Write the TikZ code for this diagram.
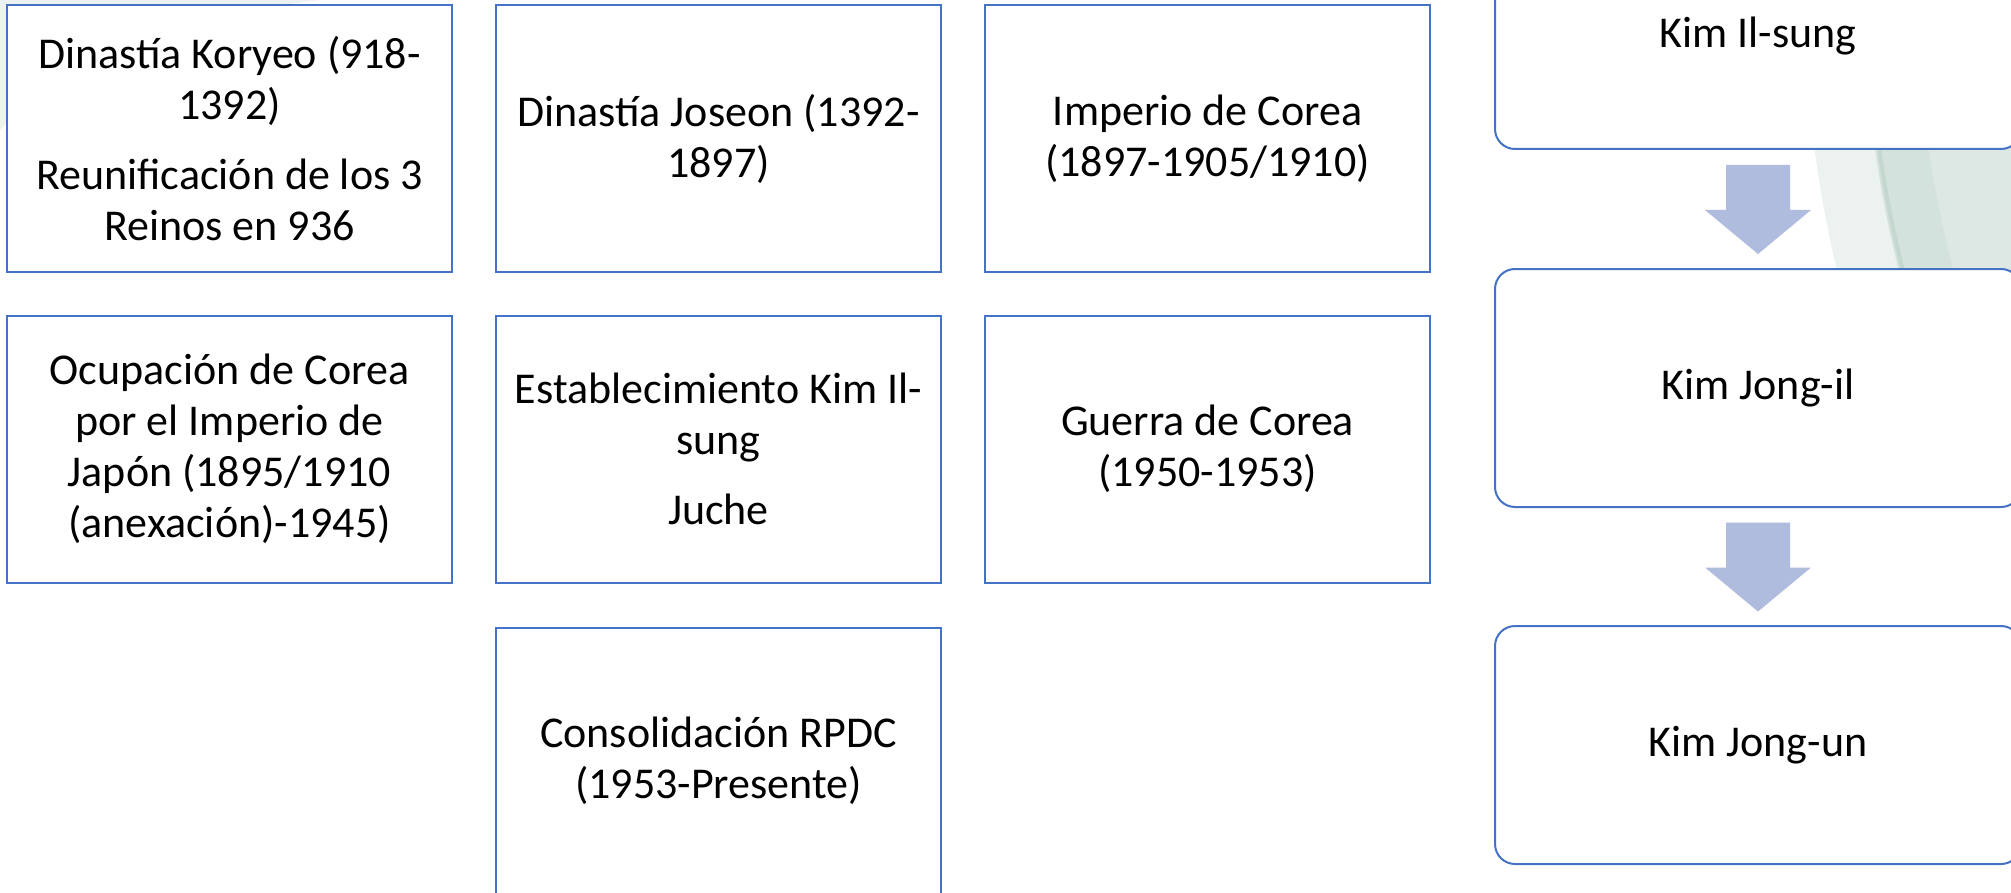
\documentclass[tikz,border=0pt]{standalone}
\usepackage[dvipsnames]{xcolor}
\usepackage{fontspec}
\setmainfont{Carlito}
\usetikzlibrary{calc}

\definecolor{boxBlue}{RGB}{68,114,196}
\definecolor{arrowBlue}{RGB}{176,188,222}
\definecolor{facetLight}{RGB}{236,242,240}
\definecolor{facetMid}{RGB}{211,226,220}
\definecolor{facetRing}{RGB}{221,232,228}
\definecolor{facetDark}{RGB}{196,216,207}

\begin{document}
\begin{tikzpicture}[x=0.5pt,y=-0.5pt,
  eventBox/.style={draw=boxBlue,line width=1pt,fill=white,inner sep=0pt,
    minimum width=222.5pt,minimum height=133.5pt,align=center,
    font=\fontsize{22}{25.5}\selectfont},
  leaderBox/.style={eventBox,rounded corners=10pt,minimum width=263pt,minimum height=119pt},
  blockArrow/.style={fill=arrowBlue,draw=none}]
\useasboundingbox (0,0) rectangle (2011,893);
\clip (0,0) rectangle (2011,893);
\fill[white] (0,0) rectangle (2011,893);
\fill[facetLight] (0,0) -- (320,0) .. controls (170,18) and (60,60) .. (0,130) -- cycle;
\begin{scope}
  \clip (1700,0) rectangle (2011,300);
  \fill[facetLight] (2953,0) circle[radius=1148];
  \fill[facetMid] (2953,0) circle[radius=1088];
  \draw[facetDark,line width=2pt] (2953,0) circle[radius=1084];
  \fill[facetRing] (2953,0) circle[radius=1035];
\end{scope}

\node[eventBox] (dinastiaKoryeo) at (229.5,138.5) {Dinastía Koryeo (918-\\1392)\\[9.5pt]Reunificación de los 3\\Reinos en 936};
\node[eventBox] (dinastiaJoseon) at (718.5,138.5) {Dinastía Joseon (1392-\\1897)};
\node[eventBox] (imperioCorea) at (1207.5,138.5) {Imperio de Corea\\(1897-1905/1910)};
\node[eventBox] (ocupacionJapon) at (229.5,449) {Ocupación de Corea\\por el Imperio de\\Japón (1895/1910\\(anexación)-1945)};
\node[eventBox] (establecimientoKim) at (718.5,449) {Establecimiento Kim Il-\\sung\\[9.5pt]Juche};
\node[eventBox] (guerraCorea) at (1207.5,449) {Guerra de Corea\\(1950-1953)};
\node[eventBox] (consolidacionRPDC) at (718.5,761) {Consolidación RPDC\\(1953-Presente)};

\node[leaderBox,minimum height=113pt] (kimIlSung) at (1758,36) {Kim Il-sung};
\node[leaderBox] (kimJongIl) at (1758,388) {Kim Jong-il};
\node[leaderBox] (kimJongUn) at (1758,745) {Kim Jong-un};

\foreach \upper/\lower in {kimIlSung/kimJongIl,kimJongIl/kimJongUn}
  \fill[blockArrow] ($(\upper.south)!0.5!(\lower.north)+(-32,-44)$) -- ++(64,0) -- ++(0,45)
    -- ++(21,0) -- ++(-53,44) -- ++(-53,-44) -- ++(21,0) -- cycle;
\end{tikzpicture}
\end{document}
